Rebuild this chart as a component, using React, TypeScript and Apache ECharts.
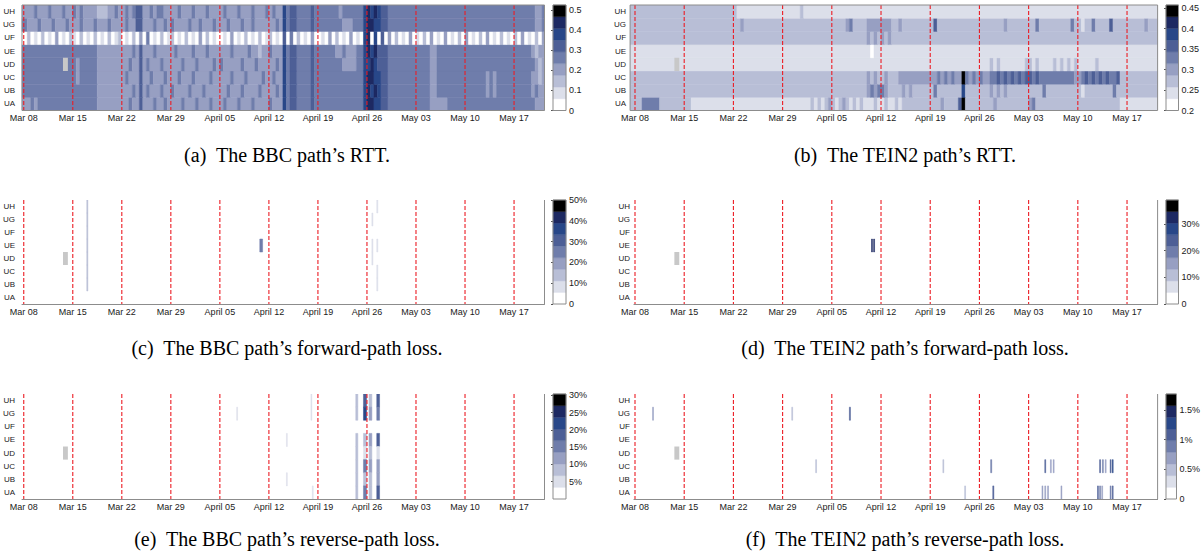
import React, { useEffect, useRef } from "react";
import * as echarts from "echarts";

// ---------------------------------------------------------------- categories
const ROWS = ["UA", "UB", "UC", "UD", "UE", "UF", "UG", "UH"];
const WEEK_DAYS = [0, 7, 14, 21, 28, 35, 42, 49, 56, 63, 70];
const WEEK_LABELS = ["Mar 08", "Mar 15", "Mar 22", "Mar 29", "April 05", "April 12", "April 19", "April 26", "May 03", "May 10", "May 17"];
const BIN_DAYS = 0.5; // RTT strings: one char per half day, starting Mar 08 00:00
const END_DAY = 74.35;

// colour bands (lowest -> highest)
const PALETTE = ["#ffffff", "#dcdfea", "#b8bed6", "#979fc2", "#6f7dab", "#4d5f96", "#284788", "#1d2962", "#000000"];
const MISSING_COLOR = "#c8c8c8";
// [startDay, endDay, rowIndex] – no measurement
const MISSING_BLOCKS = [[5.6, 6.3, 3]];

// ---------------------------------------------------------------- (a) BBC RTT, band level per half day (weeks separated by spaces)
const BBC_RTT_UA = "33434444444444 44444443333333 33433533343343 33343334333433 34333433343333 43336455444454 44444444444446 77665544444444 44443333344444 44444444444444 444444333";
const BBC_RTT_UB = "44444444444444 44444443333333 33343534333433 43333433343333 33433343333433 33436455444454 44444444444446 76765544444444 44443344444444 44444434344444 444443433";
const BBC_RTT_UC = "44444444444444 43444443333333 34333533433343 33433343333433 33343334333343 34336455444454 44444444444446 77665544444444 44443344444444 44444434344444 444443323";
const BBC_RTT_UD = "44444444444444 43444443333333 33433534333433 33343334333343 43333343334333 33436455444454 44444443333446 67655544444444 44443344444444 44444444444444 444444323";
const BBC_RTT_UE = "44444444444444 44444443333333 33343533343333 34333343334333 33343333433233 43336455444454 44444334333446 76755544444444 44443344444444 44444444444444 444443233";
const BBC_RTT_UF = "02010201030102 10201020102012 01020304010201 20102010302010 01030102010201 20105040201030 01030201030106 70605030201030 10203010301020 30102030102010 203010203";
const BBC_RTT_UG = "43334333433343 33433343334333 34335533343343 43333433433343 33433343343333 33436455444454 44444443334446 77665544444444 44444444444444 44444444444444 444444334";
const BBC_RTT_UH = "33343334333433 43433332223343 34345533434433 33433343334333 34333433343334 34336455444454 44444434444446 76765544444444 44444444444444 44444444444444 444444334";
const BBC_RTT_ROWS = [BBC_RTT_UA, BBC_RTT_UB, BBC_RTT_UC, BBC_RTT_UD, BBC_RTT_UE, BBC_RTT_UF, BBC_RTT_UG, BBC_RTT_UH];

// ---------------------------------------------------------------- (b) TEIN2 RTT
const TEIN_RTT_UA = "22444442222222 22111111111111 11111111111111 11111111212123 21232121211121 12112122222222 22232222582222 22223222222222 34222222222222 22222222222211 111111111";
const TEIN_RTT_UB = "22222222222222 22222222222222 22222222222222 22222222222222 22222222223434 43222232322222 24222222262222 22232323222222 22224222222222 21222222224222 222222222";
const TEIN_RTT_UC = "22222222222222 22222222222222 22222222222222 22222222222222 22222222223232 23222333333333 33434343384343 43344545454545 54544444444443 34545454544522 222222222";
const TEIN_RTT_UD = "11111111111111 11111111111111 11111111111111 11111111111111 11111111111111 11111111111111 11111111111111 11121211111112 21211112121212 11111211111111 111111111";
const TEIN_RTT_UE = "11111111111111 11111111111111 11111111111111 11111111111111 11111111111011 11111111111111 11111111111111 11111111111111 11111111111111 11111111111111 111111111";
const TEIN_RTT_UF = "22222222222222 22222222222222 22222222222222 22222222222222 22222222223232 32322222222222 22222222222222 22222222222222 22222222222222 22222222222222 222222222";
const TEIN_RTT_UG = "22222222222222 22222222222222 22322222222222 22222222222222 22223422223333 33322322222222 25222222222222 22222223222222 22422222222242 21224222252222 222223222";
const TEIN_RTT_UH = "22222222222222 22222222222222 21111111111111 11111211111111 11111111111111 11111111111111 11111111111111 11111111111111 11111111111111 11111111111111 111111111";
const TEIN_RTT_ROWS = [TEIN_RTT_UA, TEIN_RTT_UB, TEIN_RTT_UC, TEIN_RTT_UD, TEIN_RTT_UE, TEIN_RTT_UF, TEIN_RTT_UG, TEIN_RTT_UH];

// ---------------------------------------------------------------- loss events: [startDay, durationDays, rowIndex, loss %]
const BBC_FWD_LOSS = [
  [9.0, 0.15, 1, 12], [9.0, 0.15, 2, 12], [9.0, 0.15, 3, 12], [9.0, 0.15, 4, 12], [9.0, 0.15, 5, 12], [9.0, 0.15, 6, 12], [9.0, 0.15, 7, 12],
  [33.7, 0.4, 4, 25],
  [49.7, 0.15, 6, 7], [49.7, 0.15, 4, 7], [49.7, 0.15, 3, 7],
  [50.4, 0.15, 7, 7], [50.4, 0.15, 4, 7], [50.4, 0.15, 2, 7], [50.4, 0.15, 1, 7],
];
const TEIN_FWD_LOSS = [[33.65, 0.13, 4, 31], [33.95, 0.13, 4, 31]];
const BBC_REV_LOSS = [
  [30.4, 0.12, 6, 5],
  [37.5, 0.12, 4, 4], [37.5, 0.12, 1, 4],
  [41.0, 0.12, 7, 4], [41.0, 0.12, 6, 4], [41.2, 0.12, 0, 4],
  [47.4, 0.3, 7, 8.5], [47.4, 0.3, 6, 8.5], [47.4, 0.3, 4, 8.5], [47.4, 0.3, 3, 8.5], [47.4, 0.3, 2, 8.5], [47.4, 0.3, 1, 8.5], [47.4, 0.3, 0, 8.5],
  [48.5, 0.45, 7, 18.6], [48.5, 0.45, 6, 22], [48.5, 0.45, 4, 8.5], [48.5, 0.45, 3, 5], [48.5, 0.45, 2, 15.2], [48.5, 0.45, 1, 8.5], [48.5, 0.45, 0, 15.2],
  [49.3, 0.4, 7, 8.5], [49.3, 0.4, 6, 11.8], [49.3, 0.4, 4, 11.8], [49.3, 0.4, 3, 8.5], [49.3, 0.4, 2, 11.8], [49.3, 0.4, 1, 8.5], [49.3, 0.4, 0, 8.5],
  [50.4, 0.4, 7, 18.6], [50.4, 0.4, 6, 15.2], [50.4, 0.4, 4, 18.6], [50.4, 0.4, 3, 5], [50.4, 0.4, 2, 11.8], [50.4, 0.4, 1, 11.8], [50.4, 0.4, 0, 18.6],
];
const TEIN_REV_LOSS = [
  [2.5, 0.12, 6, 0.6], [22.3, 0.12, 6, 0.5], [30.5, 0.15, 6, 1.1],
  [25.7, 0.12, 2, 0.5], [43.8, 0.12, 2, 0.5], [50.6, 0.15, 2, 0.9], [58.3, 0.12, 2, 1.08], [59.1, 0.12, 2, 0.7], [59.5, 0.12, 2, 0.7],
  [66.1, 0.12, 2, 1.08], [66.5, 0.12, 2, 0.9], [66.9, 0.12, 2, 0.7], [67.6, 0.12, 2, 1.1], [67.9, 0.12, 2, 1.3],
  [46.9, 0.12, 0, 0.5], [50.9, 0.15, 0, 1.1], [57.9, 0.12, 0, 0.7], [58.3, 0.12, 0, 0.7], [58.7, 0.12, 0, 0.7], [60.6, 0.12, 0, 0.7],
  [65.8, 0.12, 0, 1.08], [66.1, 0.12, 0, 0.9], [66.4, 0.12, 0, 0.7], [67.6, 0.12, 0, 0.9], [67.9, 0.12, 0, 1.08],
];

// ---------------------------------------------------------------- colour scales
const SCALE_A = { lo: 0, hi: 0.524 };
const TICKS_A = [0, 0.1, 0.2, 0.3, 0.4, 0.5];
const TICK_LABELS_A = ["0", "0.1", "0.2", "0.3", "0.4", "0.5"];
const SCALE_B = { lo: 0.2, hi: 0.458 };
const TICKS_B = [0.2, 0.25, 0.3, 0.35, 0.4, 0.45];
const TICK_LABELS_B = ["0.2", "0.25", "0.3", "0.35", "0.4", "0.45"];
const SCALE_C = { lo: 0, hi: 50 };
const TICKS_C = [0, 10, 20, 30, 40, 50];
const TICK_LABELS_C = ["0", "10%", "20%", "30%", "40%", "50%"];
const SCALE_D = { lo: 0, hi: 39 };
const TICKS_D = [0, 10, 20, 30];
const TICK_LABELS_D = ["0", "10%", "20%", "30%"];
const SCALE_E = { lo: 0, hi: 30.4 };
const TICKS_E = [5, 10, 15, 20, 25, 30];
const TICK_LABELS_E = ["5%", "10%", "15%", "20%", "25%", "30%"];
const SCALE_F = { lo: 0, hi: 1.77 };
const TICKS_F = [0, 0.5, 1, 1.5];
const TICK_LABELS_F = ["0", "0.5%", "1%", "1.5%"];

const CAPTIONS = [
  "(a)\u00a0 The BBC path\u2019s RTT.",
  "(b)\u00a0 The TEIN2 path\u2019s RTT.",
  "(c)\u00a0 The BBC path\u2019s forward-path loss.",
  "(d)\u00a0 The TEIN2 path\u2019s forward-path loss.",
  "(e)\u00a0 The BBC path\u2019s reverse-path loss.",
  "(f)\u00a0 The TEIN2 path\u2019s reverse-path loss.",
];

// ---------------------------------------------------------------- layout
const LAYOUT = {
  cols: [
    { x0: 22.95, pxPerDay: 7.015, cbLeft: 553, cbWidth: 13, captionX: 287, yLabelMargin: 7 },
    { x0: 635, pxPerDay: 7.029, cbLeft: 1166, cbWidth: 12.5, captionX: 905, yLabelMargin: 4 },
  ],
  rows: [
    { top: 5, bottom: 110.5, captionY: 155 },
    { top: 200, bottom: 304, captionY: 348 },
    { top: 394, bottom: 499, captionY: 539 },
  ],
};

const SANS = "Liberation Sans, Arial, sans-serif";
const SERIF = "Liberation Serif, Times New Roman, serif";
const AXIS_GREY = "#8c8c8c";
const RED = "#ec1c24";

type Scale = { lo: number; hi: number };

function rttItems(rows: string[], scale: Scale, min: number) {
  const step = (scale.hi - scale.lo) / PALETTE.length;
  const out: number[][] = [];
  rows.forEach((s, r) => {
    const lv = s.replace(/\s+/g, "").split("").map(Number);
    let i = 0;
    while (i < lv.length) {
      let j = i;
      while (j + 1 < lv.length && lv[j + 1] === lv[i]) j++;
      const start = i === 0 ? min : i * BIN_DAYS;
      const end = j === lv.length - 1 ? END_DAY : Math.min((j + 1) * BIN_DAYS, END_DAY);
      if (end > start) out.push([start, end, r, scale.lo + (lv[i] + 0.5) * step]);
      i = j + 1;
    }
  });
  return out;
}

function lossItems(events: number[][]) {
  return events.map(([s, d, r, v]) => [s, s + d, r, v]);
}

function colorFor(v: number, scale: Scale) {
  const step = (scale.hi - scale.lo) / PALETTE.length;
  let i = Math.floor((v - scale.lo) / step);
  if (i < 0) i = 0;
  if (i > PALETTE.length - 1) i = PALETTE.length - 1;
  return PALETTE[i];
}

const PANELS = [
  { col: 0, row: 0, min: -0.25, cells: rttItems(BBC_RTT_ROWS, SCALE_A, -0.25), scale: SCALE_A, ticks: TICKS_A, labels: TICK_LABELS_A, frame: "box" },
  { col: 1, row: 0, min: -0.7, cells: rttItems(TEIN_RTT_ROWS, SCALE_B, -0.7), scale: SCALE_B, ticks: TICKS_B, labels: TICK_LABELS_B, frame: "box" },
  { col: 0, row: 1, min: -0.25, cells: lossItems(BBC_FWD_LOSS), scale: SCALE_C, ticks: TICKS_C, labels: TICK_LABELS_C, frame: "open" },
  { col: 1, row: 1, min: -0.15, cells: lossItems(TEIN_FWD_LOSS), scale: SCALE_D, ticks: TICKS_D, labels: TICK_LABELS_D, frame: "open" },
  { col: 0, row: 2, min: -0.25, cells: lossItems(BBC_REV_LOSS), scale: SCALE_E, ticks: TICKS_E, labels: TICK_LABELS_E, frame: "open" },
  { col: 1, row: 2, min: -0.15, cells: lossItems(TEIN_REV_LOSS), scale: SCALE_F, ticks: TICKS_F, labels: TICK_LABELS_F, frame: "open" },
];

function buildOption() {
  const grid: any[] = [];
  const xAxis: any[] = [];
  const yAxis: any[] = [];
  const series: any[] = [];
  const graphic: any[] = [];

  PANELS.forEach((p, k) => {
    const col = LAYOUT.cols[p.col];
    const row = LAYOUT.rows[p.row];
    const scale = p.scale;

    // ---- main plot
    const gi = grid.length;
    grid.push({
      left: col.x0 + p.min * col.pxPerDay,
      top: row.top,
      width: (END_DAY - p.min) * col.pxPerDay,
      height: row.bottom - row.top,
    });
    xAxis.push({
      gridIndex: gi,
      type: "value",
      min: p.min,
      max: END_DAY,
      axisLine: { show: p.frame === "open", lineStyle: { color: AXIS_GREY, width: 1 } },
      axisTick: { show: false },
      splitLine: { show: false },
      axisLabel: {
        customValues: WEEK_DAYS,
        formatter: (v: number) => {
          const i = WEEK_DAYS.indexOf(v);
          return i >= 0 ? WEEK_LABELS[i] : "";
        },
        fontSize: 9,
        fontFamily: SANS,
        color: "#1a1a1a",
        margin: 3,
      },
    });
    yAxis.push({
      gridIndex: gi,
      type: "category",
      data: ROWS,
      axisLine: { show: false },
      axisTick: { show: false },
      splitLine: { show: false },
      axisLabel: { fontSize: 8, fontFamily: SANS, color: "#1a1a1a", margin: col.yLabelMargin },
    });

    series.push({
      type: "custom",
      xAxisIndex: gi,
      yAxisIndex: gi,
      silent: true,
      clip: true,
      encode: { x: [0, 1], y: 2 },
      data: p.cells,
      renderItem: (params: any, api: any) => {
        const s = api.value(0);
        const e = api.value(1);
        const r = api.value(2);
        const v = api.value(3);
        const a = api.coord([s, r]);
        const b = api.coord([e, r]);
        const h = api.size([0, 1])[1];
        const c = colorFor(v, scale);
        return {
          type: "rect",
          shape: { x: a[0], y: a[1] - h / 2, width: Math.max(b[0] - a[0], 0.9), height: h },
          style: { fill: c, stroke: c, lineWidth: 0.5 },
        };
      },
    });

    series.push({
      type: "custom",
      xAxisIndex: gi,
      yAxisIndex: gi,
      silent: true,
      clip: true,
      encode: { x: [0, 1], y: 2 },
      data: MISSING_BLOCKS,
      renderItem: (params: any, api: any) => {
        const a = api.coord([api.value(0), api.value(2)]);
        const b = api.coord([api.value(1), api.value(2)]);
        const h = api.size([0, 1])[1];
        return {
          type: "rect",
          shape: { x: a[0], y: a[1] - h / 2, width: b[0] - a[0], height: h },
          style: { fill: MISSING_COLOR },
        };
      },
    });

    // weekly dashed markers
    series.push({
      type: "custom",
      xAxisIndex: gi,
      yAxisIndex: gi,
      silent: true,
      encode: { x: 0, y: 1 },
      data: WEEK_DAYS.map((d) => [d, 0]),
      renderItem: (params: any, api: any) => {
        const x = api.coord([api.value(0), 0])[0];
        const cs = params.coordSys;
        return {
          type: "line",
          shape: { x1: x, y1: cs.y, x2: x, y2: cs.y + cs.height },
          style: { stroke: RED, lineWidth: 1.1, lineDash: [4, 2] },
        };
      },
    });

    // frame
    series.push({
      type: "custom",
      xAxisIndex: gi,
      yAxisIndex: gi,
      silent: true,
      encode: { x: 0, y: 1 },
      data: [[END_DAY, 0]],
      renderItem: (params: any) => {
        const cs = params.coordSys;
        if (p.frame === "box") {
          return {
            type: "rect",
            shape: { x: cs.x, y: cs.y, width: cs.width, height: cs.height },
            style: { fill: "none", stroke: AXIS_GREY, lineWidth: 1 },
          };
        }
        return {
          type: "line",
          shape: { x1: cs.x + cs.width, y1: cs.y, x2: cs.x + cs.width, y2: cs.y + cs.height },
          style: { stroke: AXIS_GREY, lineWidth: 1 },
        };
      },
    });

    // ---- colour bar
    const ci = grid.length;
    grid.push({ left: col.cbLeft, top: row.top, width: col.cbWidth, height: row.bottom - row.top });
    xAxis.push({ gridIndex: ci, type: "value", min: 0, max: 1, show: false });
    const step = (scale.hi - scale.lo) / PALETTE.length;
    yAxis.push({
      gridIndex: ci,
      type: "value",
      position: "right",
      min: scale.lo,
      max: scale.hi,
      axisLine: { show: false },
      splitLine: { show: false },
      axisTick: { show: true, inside: true, length: 2, customValues: p.ticks, lineStyle: { color: "#555" } },
      axisLabel: {
        customValues: p.ticks,
        formatter: (v: number) => {
          const i = p.ticks.findIndex((t) => Math.abs(t - v) < 1e-9);
          return i >= 0 ? p.labels[i] : "";
        },
        fontSize: 9,
        fontFamily: SANS,
        color: "#1a1a1a",
        margin: 3,
      },
    });
    series.push({
      type: "custom",
      xAxisIndex: ci,
      yAxisIndex: ci,
      silent: true,
      encode: { x: 0, y: [1, 2] },
      data: PALETTE.map((_, i) => [0, scale.lo + i * step, scale.lo + (i + 1) * step, i]),
      renderItem: (params: any, api: any) => {
        const a = api.coord([0, api.value(1)]);
        const b = api.coord([1, api.value(2)]);
        const c = PALETTE[api.value(3)];
        return {
          type: "rect",
          shape: { x: a[0], y: b[1], width: b[0] - a[0], height: a[1] - b[1] },
          style: { fill: c, stroke: c, lineWidth: 0.4 },
        };
      },
    });
    series.push({
      type: "custom",
      xAxisIndex: ci,
      yAxisIndex: ci,
      silent: true,
      encode: { x: 0, y: 1 },
      data: [[0, scale.lo]],
      renderItem: (params: any) => {
        const cs = params.coordSys;
        return {
          type: "rect",
          shape: { x: cs.x, y: cs.y, width: cs.width, height: cs.height },
          style: { fill: "none", stroke: AXIS_GREY, lineWidth: 1 },
        };
      },
    });

    // ---- caption
    graphic.push({
      type: "text",
      x: col.captionX,
      y: row.captionY,
      style: {
        text: CAPTIONS[k],
        fontFamily: SERIF,
        fontSize: 20,
        fill: "#000",
        align: "center",
        verticalAlign: "middle",
        textAlign: "center",
        textVerticalAlign: "middle",
      },
    });
  });

  return { animation: false, backgroundColor: "#ffffff", grid, xAxis, yAxis, series, graphic };
}

export default function App() {
  const ref = useRef<HTMLDivElement>(null);
  useEffect(() => {
    if (!ref.current) return;
    const chart = echarts.init(ref.current, null, { renderer: "svg" });
    chart.setOption(buildOption() as any);
    return () => chart.dispose();
  }, []);
  return (
    <div
      ref={ref}
      style={{ position: "absolute", left: 0, top: 0, width: 1203, height: 555, background: "#ffffff" }}
    />
  );
}
